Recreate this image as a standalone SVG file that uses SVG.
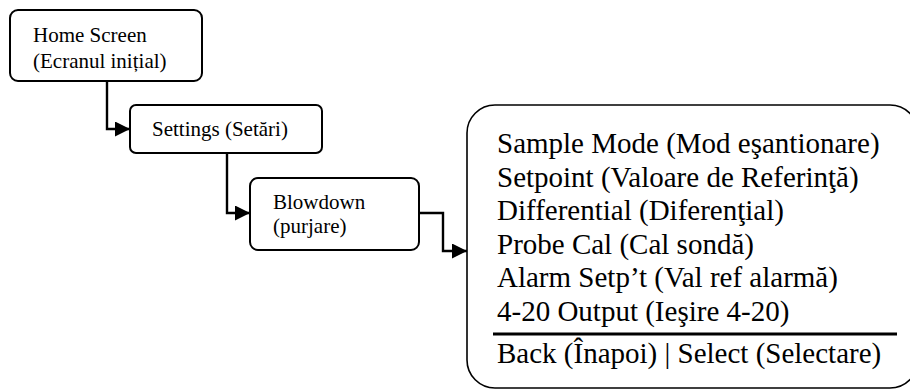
<svg xmlns="http://www.w3.org/2000/svg" width="910" height="390" viewBox="0 0 910 390">
<style>
  .box { fill: #fff; stroke: #000; stroke-width: 2; }
  .big { fill: #fff; stroke: #000; stroke-width: 1.6; }
  .sm { font-family: "Liberation Serif", "Times New Roman", serif; font-size: 21px; fill: #000; }
  .lg { font-family: "Liberation Serif", "Times New Roman", serif; font-size: 29px; fill: #000; }
  .conn { fill: none; stroke: #000; stroke-width: 2.4; }
</style>
<defs>
  <marker id="arr" viewBox="0 0 15 15" refX="15" refY="7.5" markerWidth="15" markerHeight="15" markerUnits="userSpaceOnUse" orient="auto">
    <path d="M0,0 L15,7.5 L0,15 Z" fill="#000"/>
  </marker>
</defs>
<rect width="910" height="390" fill="#fff"/>
<g id="connectors">
  <path class="conn" d="M107,81 V129 H130" marker-end="url(#arr)"/>
  <path class="conn" d="M227,153 V213 H250" marker-end="url(#arr)"/>
  <path class="conn" d="M419,213 H443 V251 H467" marker-end="url(#arr)"/>
</g>
<g id="home">
  <rect class="box" x="10" y="10" width="192" height="71" rx="8"/>
  <text class="sm" x="33" y="42">Home Screen</text>
  <text class="sm" x="33" y="68">(Ecranul inițial)</text>
</g>
<g id="settings">
  <rect class="box" x="130" y="105" width="192" height="48" rx="6"/>
  <text class="sm" x="152" y="136">Settings (Setări)</text>
</g>
<g id="blowdown">
  <rect class="box" x="250" y="178" width="169" height="72" rx="8"/>
  <text class="sm" x="273" y="209">Blowdown</text>
  <text class="sm" x="273" y="233">(purjare)</text>
</g>
<g id="menu">
  <rect class="big" x="467" y="105" width="451" height="283" rx="28"/>
  <text class="lg" x="497" y="153">Sample Mode (Mod eşantionare)</text>
  <text class="lg" x="497" y="186.6">Setpoint (Valoare de Referinţă)</text>
  <text class="lg" x="497" y="220.2">Differential (Diferenţial)</text>
  <text class="lg" x="497" y="253.8">Probe Cal (Cal sondă)</text>
  <text class="lg" x="497" y="287.4">Alarm Setp’t (Val ref alarmă)</text>
  <text class="lg" x="497" y="321">4-20 Output (Ieşire 4-20)</text>
  <line x1="493" y1="334" x2="897" y2="334" stroke="#000" stroke-width="3"/>
  <text class="lg" x="497" y="363">Back (Înapoi) | Select (Selectare)</text>
</g>
</svg>
